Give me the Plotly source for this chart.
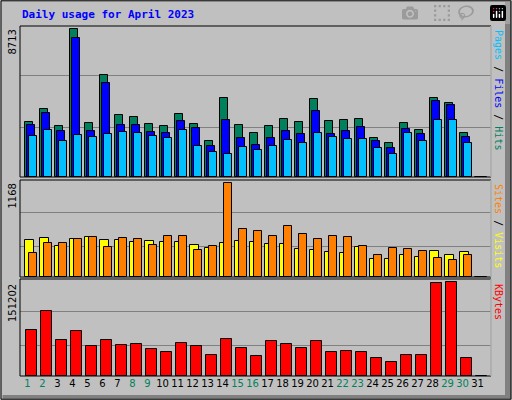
import plotly.graph_objects as go

days = list(range(1, 32))
hits = [3215,3983,2979,8713,3156,5993,3629,3511,3097,2979,3688,3097,2092,4633,3038,2565,2979,3392,3215,4574,3274,3333,3392,2269,1974,3156,2742,4633,4338,2565,0]
files = [3038,3747,2683,8180,2683,5520,3038,3038,2624,2565,3274,2860,1797,3333,2269,1856,2269,2683,2506,3865,2506,2683,2920,2092,1678,2801,2506,4456,4220,2329,0]
pages = [2388,2742,2092,2447,2329,2506,2624,2565,2388,2269,2742,1797,1501,1383,1738,1560,1797,2151,1974,2565,2329,2211,2211,1678,1383,2565,2092,3333,3333,1974,0]
sites = [457,482,381,470,495,457,457,432,444,432,432,394,355,419,444,432,406,406,343,330,305,292,368,229,229,279,254,317,267,305,0]
visits = [292,419,419,470,495,368,482,470,394,508,508,330,381,1168,597,571,508,635,533,470,508,495,381,279,355,343,317,241,216,279,0]
kbytes = [73389,104842,58491,71734,48558,58491,50214,51869,43592,38626,53525,48558,33660,60146,45248,32004,56835,51869,45248,56835,38626,40281,38626,28694,22072,33660,33660,149538,151202,28694,0]
weekend = {1,2,8,9,15,16,22,23,29,30}
tick_labels = [f'<span style="color:{"#00805c" if d in weekend else "black"}">{d}</span>' for d in days]

HMAX, SMAX, KMAX = 8713, 1168, 151202

fig = go.Figure()
def bar(y, color, off, w, xa, ya):
    fig.add_trace(go.Bar(x=days, y=y, offset=off, width=w, marker=dict(color=color, line=dict(color="black", width=1)),
                         xaxis=xa, yaxis=ya, showlegend=False, hoverinfo="skip"))
bar(hits, "#00805c", -0.17, 0.53, "x", "y")
bar(files, "#0000ff", -0.03, 0.53, "x", "y")
bar(pages, "#00c0ff", 0.1, 0.53, "x", "y")
bar(sites, "#ffff00", -0.17, 0.57, "x2", "y2")
bar(visits, "#ff8000", 0.1, 0.5, "x2", "y2")
bar(kbytes, "#ff0000", -0.1, 0.7, "x3", "y3")

xr = [0.5, 31.9]
dom = [20/512, 491/512]
ax = dict(range=xr, domain=dom, showgrid=False, zeroline=False, showline=False, fixedrange=True)
fig.update_layout(
    width=512, height=400, margin=dict(l=0, r=0, t=0, b=0),
    paper_bgcolor="#c0c0c0", plot_bgcolor="#c0c0c0", barmode="overlay", bargap=0,
    font=dict(family="DejaVu Sans Mono", size=11, color="black"),
    xaxis=dict(**ax, anchor="y", showticklabels=False),
    xaxis2=dict(**ax, anchor="y2", showticklabels=False),
    xaxis3=dict(**ax, anchor="y3", tickmode="array", tickvals=days, ticktext=tick_labels, ticks="", tickangle=0,
                tickfont=dict(family="DejaVu Sans", size=10)),
    yaxis=dict(domain=[1-177/400, 1-26/400], range=[0, HMAX*1.02], tickvals=[2937, 5951], showticklabels=False,
               gridcolor="#808080", zeroline=False, fixedrange=True),
    yaxis2=dict(domain=[1-277/400, 1-180/400], range=[0, SMAX*1.03], tickvals=[381, 800], showticklabels=False,
                gridcolor="#808080", zeroline=False, fixedrange=True),
    yaxis3=dict(domain=[1-376/400, 1-279/400], range=[0, KMAX*1.03], tickvals=[48558, 103187], showticklabels=False,
                gridcolor="#808080", zeroline=False, fixedrange=True),
)
for (y0, y1) in [(26, 177), (180, 277), (279, 376)]:
    fig.add_shape(type="rect", xref="paper", yref="paper", x0=20/512, x1=491/512, y0=1-y1/400, y1=1-y0/400,
                  line=dict(color="black", width=1))
    fig.add_shape(type="line", xref="paper", yref="paper", x0=491/512, x1=491/512, y0=1-y1/400, y1=1-y0/400,
                  line=dict(color="white", width=1))
fig.add_shape(type="rect", xref="paper", yref="paper", x0=505/512, x1=511/512, y0=0.005, y1=0.995, fillcolor="#808080", line_width=0)
fig.add_shape(type="rect", xref="paper", yref="paper", x0=0.005, x1=511/512, y0=0.003, y1=5/400, fillcolor="#808080", line_width=0)
fig.add_shape(type="rect", xref="paper", yref="paper", x0=0.002, x1=0.998, y0=0.002, y1=0.998, line=dict(color="black", width=1))

fig.add_annotation(text="<b>Daily usage for April 2023</b>", x=20/512, y=1-15/400, xref="paper", yref="paper",
                   xanchor="left", yanchor="middle", showarrow=False, font=dict(color="#0000ff", size=11, family="DejaVu Sans Mono"))
for txt, ytop in [("8713", 28), ("1168", 182), ("151202", 282)]:
    fig.add_annotation(text=txt, x=12/512, y=1-ytop/400, xref="paper", yref="paper", textangle=-90,
                       xanchor="center", yanchor="top", showarrow=False, font=dict(size=10, family="DejaVu Sans"))
legs = [('<span style="color:#00c0ff">Pages</span> / <span style="color:#0000ff">Files</span> / <span style="color:#00805c">Hits</span>', 28),
        ('<span style="color:#ff8000">Sites</span> / <span style="color:#ffff00">Visits</span>', 182),
        ('<span style="color:#ff0000">KBytes</span>', 282)]
for txt, ytop in legs:
    fig.add_annotation(text=txt, x=499/512, y=1-ytop/400, xref="paper", yref="paper", textangle=90,
                       xanchor="center", yanchor="top", showarrow=False, font=dict(size=10, family="DejaVu Sans Mono"))
fig.write_html("out.html", post_script="document.body.style.margin='0';")
